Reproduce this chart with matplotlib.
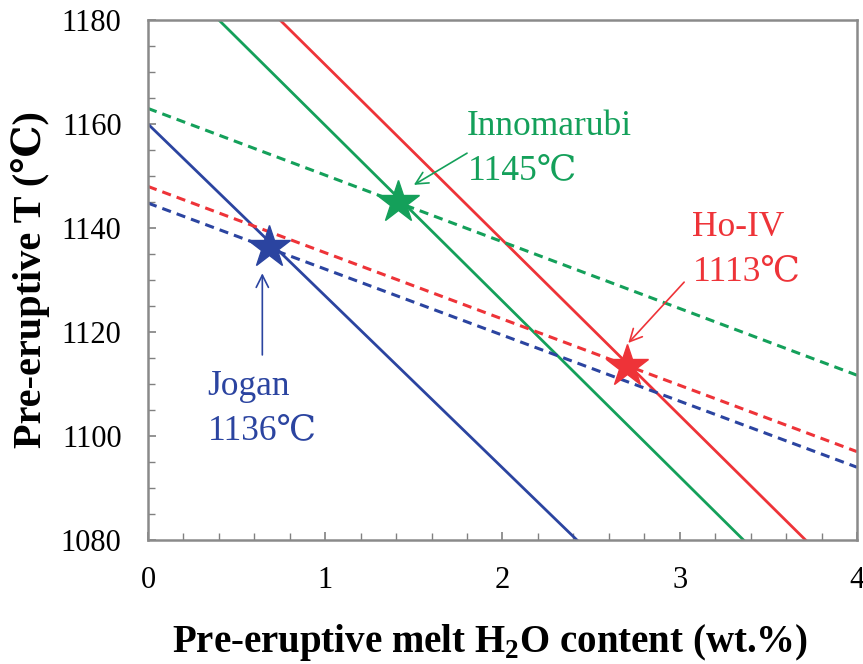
import numpy as np
import matplotlib
matplotlib.use("Agg")
import matplotlib.pyplot as plt
from matplotlib.ticker import MultipleLocator

plt.rcParams['font.family'] = ['Liberation Serif', 'DejaVu Serif']

# solid lines (end points)
jogan_x = [0.0, 2.42]
jogan_y = [1160, 1080]
inno_x = [0.40, 3.36]
inno_y = [1180, 1080]
hoiv_x = [0.745, 3.71]
hoiv_y = [1180, 1080]

# dashed lines
jogan_dx = [0.0, 4.0]
jogan_dy = [1144.8, 1094]
inno_dx = [0.0, 4.0]
inno_dy = [1163, 1111.7]
hoiv_dx = [0.0, 4.0]
hoiv_dy = [1148, 1097]

# stars (intersections)
star_x = [0.685, 1.41, 2.70]
star_y = [1136.3, 1145, 1113.5]
names = ["Jogan", "Innomarubi", "Ho-IV"]
temps = ["1136℃", "1145℃", "1113℃"]

# label anchors (left, baseline of first line) and arrows (start -> tip)
label_x = [0.335, 1.80, 3.07]
label_y = [1107.9, 1157.9, 1138.5]
arrow_from = [(0.645, 1115.6), (1.80, 1154.4), (3.025, 1129.6)]
arrow_to = [(0.645, 1131.3), (1.50, 1148.3), (2.71, 1117.9)]

BLUE = "#2b44a0"
GREEN = "#14a05a"
RED = "#ee3338"
colors = [BLUE, GREEN, RED]

fig = plt.figure(figsize=(8.63, 6.64), dpi=100)
ax = fig.add_axes([0.1715, 0.1867, 0.8215, 0.7831])

ax.plot(jogan_x, jogan_y, color=BLUE, lw=2)
ax.plot(inno_x, inno_y, color=GREEN, lw=2)
ax.plot(hoiv_x, hoiv_y, color=RED, lw=2)
ax.plot(inno_dx, inno_dy, color=GREEN, lw=2.2, ls=(0, (3, 2)))
ax.plot(hoiv_dx, hoiv_dy, color=RED, lw=2.2, ls=(0, (3, 2)))
ax.plot(jogan_dx, jogan_dy, color=BLUE, lw=2.2, ls=(0, (3, 2)))

for sx, sy, c in zip(star_x, star_y, colors):
    ax.plot(sx, sy, marker="*", markersize=32, color=c, mec=c, zorder=5)

# labels and arrows
for i, c in enumerate(colors):
    ax.text(label_x[i], label_y[i], names[i], color=c, fontsize=25.5,
            family=['Liberation Serif', 'DejaVu Serif'],
            ha="left", va="baseline")
    ax.text(label_x[i] + 0.005, label_y[i] - 8.5, temps[i], color=c,
            family=['Liberation Serif', 'DejaVu Serif'],
            fontsize=25.5, ha="left", va="baseline")
    ax.annotate("", xy=arrow_to[i], xytext=arrow_from[i],
                arrowprops=dict(arrowstyle="->", color=c, lw=1.2,
                                mutation_scale=22, shrinkA=0, shrinkB=0))

ax.set_xlim(0, 4)
ax.set_ylim(1080, 1180)
ax.xaxis.set_major_locator(MultipleLocator(1))
ax.xaxis.set_minor_locator(MultipleLocator(0.2))
ax.yaxis.set_major_locator(MultipleLocator(20))
ax.yaxis.set_minor_locator(MultipleLocator(5))
ax.tick_params(which="both", direction="in", color="#808080", labelsize=22)
ax.tick_params(which="major", length=6, width=1.2, pad=19)
ax.tick_params(which="minor", length=5, width=1.0)
for s in ax.spines.values():
    s.set_color("#8a8a8a")
    s.set_linewidth(1.8)

ax.set_xlabel("Pre-eruptive melt H$_\\mathregular{2}$O content (wt.%)",
              fontsize=28, fontweight="bold")
ax.xaxis.set_label_coords(0.482, -0.158)
ax.set_ylabel("Pre-eruptive T (℃)", fontsize=29, fontweight="bold", labelpad=8)

fig.savefig("out.png", dpi=100)
